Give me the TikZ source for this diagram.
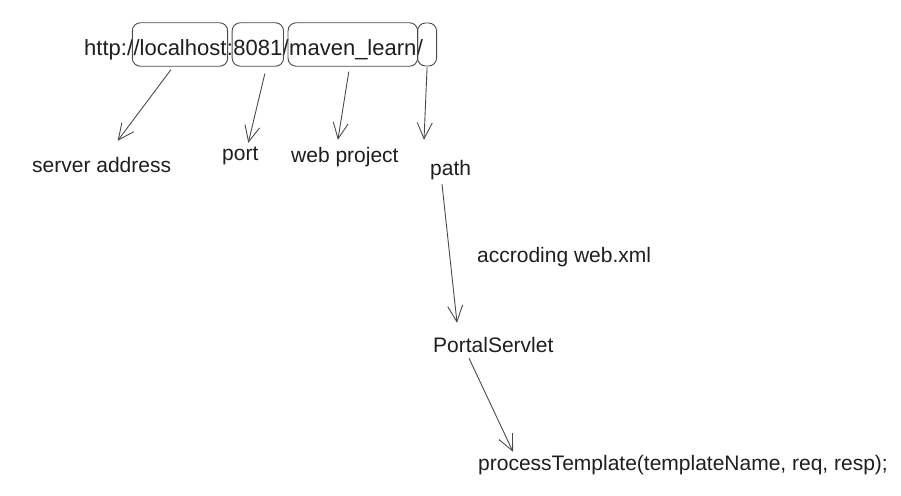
\documentclass[tikz,border=0pt]{standalone}
\usepackage{fontspec}
\setmainfont{Liberation Sans}
\usetikzlibrary{arrows.meta,fit}
\definecolor{ink}{HTML}{1E1E1E}
\definecolor{stroke}{HTML}{4A4A4A}

\begin{document}
\begin{tikzpicture}[x=1pt,y=-1pt]

    \useasboundingbox (0,0) rectangle (901,495);

    % the url, one piece after the other
    \begin{scope}[every node/.style={font=\fontsize{22}{26}\selectfont, text=ink, inner sep=0pt,
                  text height=29pt, text depth=6pt, anchor=base west}]
    \node (http) at (84,56) {http:/};
    \node (host) at (http.base east) {/localhost};
    \node (colon) at (host.base east) {:};
    \node (portnum) at (colon.base east) {8081};
    \node (sla) at (portnum.base east) {/};
    \node (proj) at (sla.base east) {maven\_learn};
    \node (slb) at (proj.base east) {/};
    \end{scope}

    % boxes round the parts
    \begin{scope}[every node/.style={draw=stroke, line width=0.9pt, rounded corners=8pt,
                  inner xsep=1pt, inner ysep=4pt}]
    \node[fit=(host)] (hostbox) {};
    \node[fit=(portnum)] (portbox) {};
    \node[fit=(proj)] (projbox) {};
    \node[minimum width=19pt, minimum height=43pt, anchor=west] (pathbox) at ([xshift=-6pt]slb.east) {};
    \end{scope}

    % labels
    \begin{scope}[every node/.style={font=\fontsize{21}{25}\selectfont, text=ink, inner sep=0pt,
                  text height=15pt, text depth=4pt, anchor=base west}]
    \node (server) at (32,172) {server address};
    \node (portlbl) at (222,160) {port};
    \node (web) at (291,162) {web project};
    \node (pathlbl) at (430,175) {path};
    \node (rule) at (477,262) {accroding web.xml};
    \node (servlet) at (433,352) {PortalServlet};
    \node (call) at (478,470) {processTemplate(templateName, req, resp);};
    \end{scope}

    % arrows
    \begin{scope}[>={Straight Barb[length=16pt,width=15pt]},
                  every edge/.style={draw=stroke, line width=0.9pt}]
    \path [->] ([xshift=-9pt,yshift=-3pt]hostbox.south) edge ([xshift=16pt,yshift=16pt]server.north);
    \path [->] ([xshift=7pt,yshift=-7pt]portbox.south) edge ([xshift=8pt,yshift=2pt]portlbl.north);
    \path [->] ([xshift=-4pt,yshift=-5pt]projbox.south) edge ([xshift=-7pt,yshift=7pt]web.north);
    \path [->] ([yshift=-1pt]pathbox.south) edge ([xshift=-6pt,yshift=20pt]pathlbl.north west);
    \path [->] ([xshift=12pt,yshift=-5pt]pathlbl.south west) edge ([xshift=24pt,yshift=14pt]servlet.north west);
    \path [->] ([xshift=36pt,yshift=-2pt]servlet.south west) edge ([xshift=35pt,yshift=3pt]call.north west);
    \end{scope}

\end{tikzpicture}
\end{document}
